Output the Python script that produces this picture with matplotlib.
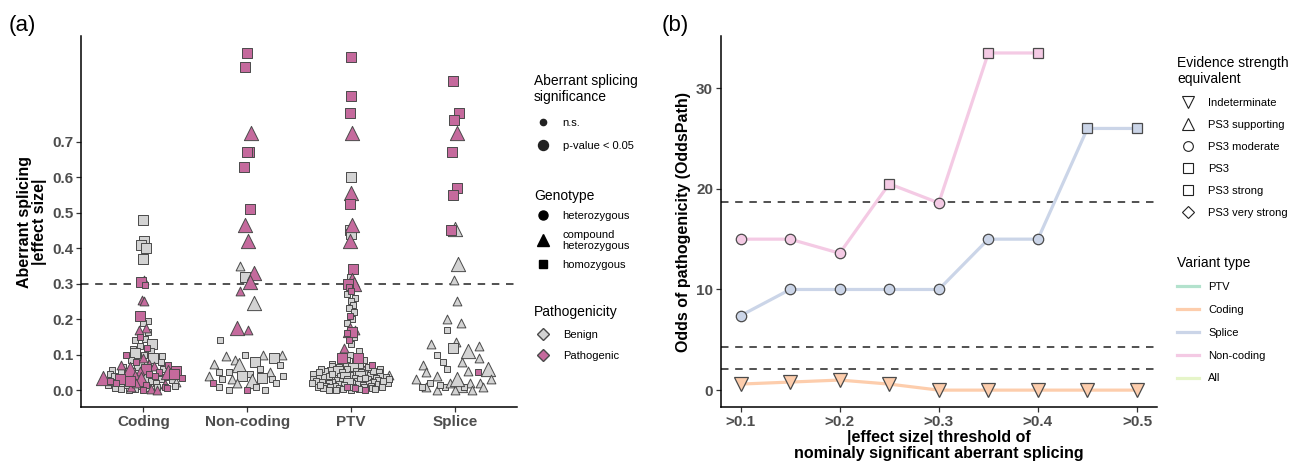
import matplotlib
matplotlib.use("Agg")
import matplotlib.pyplot as plt
from matplotlib.lines import Line2D
import numpy as np

plt.rcParams['font.family'] = ['Liberation Sans', 'DejaVu Sans']

# ---------------- panel (a) data ----------------
# kind code: shape (s=homozygous square, t=compound het triangle),
#            class (b=benign, p=pathogenic), size (S=n.s., L=p<0.05)
categories = ['Coding', 'Non-coding', 'PTV', 'Splice']

coding_vals = [0.48, 0.42, 0.41, 0.40, 0.37, 0.31, 0.305, 0.295, 0.255, 0.25,
               0.21, 0.195, 0.19, 0.175, 0.17, 0.165, 0.15, 0.145, 0.14, 0.13,
               0.125, 0.12, 0.115, 0.11, 0.105, 0.10, 0.10, 0.095, 0.09, 0.09,
               0.085, 0.08, 0.08, 0.075, 0.07, 0.07, 0.068, 0.065, 0.06, 0.06,
               0.058, 0.055, 0.055, 0.05, 0.05, 0.05, 0.048, 0.045, 0.045, 0.042,
               0.04, 0.04, 0.038, 0.035, 0.035, 0.033, 0.03, 0.03, 0.03, 0.028,
               0.025, 0.025, 0.022, 0.02, 0.02, 0.018, 0.015, 0.015, 0.012, 0.01,
               0.01, 0.01, 0.008, 0.006, 0.005, 0.004, 0.003, 0.002, 0.0, 0.0,
               0.0, 0.012, 0.02, 0.035, 0.045, 0.06, 0.07, 0.025, 0.015, 0.005]
coding_kind = ['sbL', 'sbL', 'sbL', 'sbL', 'sbL', 'tpS', 'spL', 'spS', 'tpS', 'tpS',
               'spL', 'sbS', 'sbS', 'tpS', 'tpS', 'sbS', 'spS', 'sbS', 'sbS', 'sbL',
               'sbS', 'spS', 'sbS', 'sbS', 'sbL', 'spS', 'sbS', 'sbS', 'sbL', 'tpS',
               'sbS', 'spS', 'sbS', 'tpS', 'sbL', 'spS', 'tpS', 'sbS', 'spL', 'tpL',
               'sbS', 'tpS', 'spL', 'tpL', 'sbS', 'spS', 'sbL', 'spL', 'sbS', 'tpS',
               'sbS', 'spS', 'sbS', 'tpL', 'sbL', 'spS', 'spL', 'sbS', 'tpL', 'sbS',
               'spS', 'sbS', 'tbS', 'spS', 'sbS', 'tpS', 'sbS', 'spS', 'sbS', 'spS',
               'sbS', 'sbS', 'tpS', 'sbS', 'spS', 'sbS', 'tpS', 'sbS', 'spS', 'sbS',
               'tpS', 'sbS', 'tpS', 'sbS', 'spS', 'sbS', 'tpS', 'spL', 'sbS', 'sbS']

noncoding_vals = [0.95, 0.91, 0.725, 0.67, 0.67, 0.63, 0.51, 0.465, 0.42, 0.35,
                  0.32, 0.33, 0.305, 0.28, 0.245, 0.175, 0.17, 0.14,
                  0.10, 0.095, 0.10, 0.10, 0.09, 0.085, 0.08, 0.075, 0.07, 0.07,
                  0.06, 0.05, 0.05, 0.05, 0.045, 0.04, 0.04, 0.035, 0.03, 0.03,
                  0.025, 0.02, 0.02, 0.02, 0.01, 0.01, 0.0, 0.0, 0.0, 0.04, 0.03]
noncoding_kind = ['spL', 'spL', 'tpL', 'spL', 'spL', 'spL', 'spL', 'tpL', 'tpL', 'tbS',
                  'sbL', 'tpL', 'tpL', 'tpS', 'tbL', 'tpL', 'tpS', 'sbS',
                  'tbS', 'tbS', 'sbS', 'tbS', 'sbL', 'tbS', 'sbL', 'tbS', 'tbL', 'sbS',
                  'sbS', 'sbS', 'tbS', 'sbS', 'sbS', 'sbL', 'sbS', 'sbL', 'tbS', 'sbS',
                  'tbL', 'tbS', 'sbS', 'spS', 'sbS', 'sbS', 'spS', 'sbS', 'sbS', 'tbS',
                  'sbS']

ptv_vals = [0.94, 0.83, 0.78, 0.725, 0.60, 0.555, 0.525, 0.465, 0.45, 0.44,
            0.42, 0.34, 0.32, 0.31, 0.30, 0.30, 0.29, 0.28, 0.27, 0.26,
            0.25, 0.24, 0.23, 0.22, 0.21, 0.20, 0.19, 0.17, 0.17, 0.165,
            0.16, 0.15, 0.14, 0.13, 0.12, 0.11, 0.10, 0.09, 0.09, 0.085,
            0.08, 0.078, 0.075, 0.072, 0.07, 0.07, 0.068, 0.065, 0.063, 0.06,
            0.06, 0.058, 0.056, 0.055, 0.053, 0.05, 0.05, 0.05, 0.048, 0.047,
            0.045, 0.045, 0.044, 0.043, 0.042, 0.04, 0.04, 0.04, 0.038, 0.037,
            0.036, 0.035, 0.035, 0.034, 0.033, 0.032, 0.03, 0.03, 0.03, 0.029,
            0.028, 0.027, 0.026, 0.025, 0.025, 0.024, 0.023, 0.022, 0.021, 0.02,
            0.02, 0.02, 0.019, 0.018, 0.017, 0.016, 0.015, 0.015, 0.014, 0.013,
            0.012, 0.011, 0.01, 0.01, 0.01, 0.009, 0.008, 0.007, 0.006, 0.005,
            0.005, 0.004, 0.003, 0.002, 0.001, 0.0, 0.0, 0.0, 0.06, 0.04,
            0.03, 0.05, 0.02, 0.035, 0.045, 0.015, 0.025, 0.01, 0.055, 0.065]
ptv_kind = ['spL', 'spL', 'spL', 'tpL', 'sbL', 'tpL', 'spL', 'tpL', 'sbL', 'sbL',
            'tpL', 'spL', 'sbS', 'tpL', 'tpL', 'spL', 'spS', 'spS', 'sbS', 'sbS',
            'sbS', 'sbS', 'sbS', 'sbS', 'spS', 'sbS', 'sbS', 'tpL', 'tpS', 'spL',
            'spS', 'sbS', 'spS', 'sbS', 'tpS', 'sbS', 'sbS', 'spL', 'spL', 'sbS',
            'sbL', 'sbS', 'sbS', 'spS', 'sbS', 'sbS', 'sbS', 'sbS', 'sbL', 'sbS',
            'sbS', 'tbS', 'sbS', 'sbL', 'sbS', 'sbS', 'sbS', 'sbS', 'sbL', 'sbS',
            'sbS', 'sbS', 'tbS', 'sbS', 'sbS', 'sbL', 'sbS', 'sbS', 'sbS', 'sbS',
            'sbL', 'sbS', 'sbS', 'sbS', 'sbS', 'sbS', 'sbL', 'sbS', 'sbS', 'sbS',
            'sbS', 'sbS', 'sbS', 'sbL', 'sbS', 'sbS', 'sbS', 'sbS', 'sbS', 'sbS',
            'sbL', 'sbS', 'sbS', 'sbS', 'sbS', 'sbS', 'sbS', 'sbS', 'sbS', 'sbS',
            'sbS', 'sbS', 'spS', 'sbS', 'sbS', 'sbS', 'sbS', 'sbS', 'sbS', 'sbS',
            'spS', 'sbS', 'sbS', 'sbS', 'sbS', 'sbS', 'sbS', 'spS', 'sbS', 'sbS',
            'sbS', 'sbS', 'sbS', 'sbS', 'sbS', 'sbS', 'sbS', 'sbS', 'sbS', 'sbS']

splice_vals = [0.87, 0.78, 0.76, 0.725, 0.67, 0.57, 0.55, 0.455, 0.45, 0.355,
               0.31, 0.25, 0.20, 0.19, 0.17, 0.135, 0.13, 0.125, 0.12, 0.11,
               0.10, 0.09, 0.08, 0.08, 0.07, 0.06, 0.06, 0.055, 0.05, 0.05,
               0.04, 0.03, 0.03, 0.02, 0.02, 0.02, 0.015, 0.01, 0.01, 0.01,
               0.01, 0.0, 0.0, 0.01, 0.02, 0.0, 0.03, 0.015]
splice_kind = ['spL', 'spL', 'spL', 'tpL', 'spL', 'spL', 'spL', 'tbL', 'spL', 'tbL',
               'tbS', 'tbS', 'tbS', 'tbS', 'sbS', 'tbS', 'tbS', 'tbS', 'sbL', 'tbL',
               'sbS', 'tbS', 'tbS', 'sbS', 'tbS', 'sbS', 'tbL', 'tbS', 'spS', 'tbS',
               'tbS', 'tbS', 'tbS', 'tbS', 'sbS', 'tbS', 'tbL', 'tbS', 'sbS', 'sbS',
               'tbS', 'tbS', 'tbS', 'sbS', 'tbS', 'tbS', 'tbL', 'sbS']

# ---------------- panel (b) data ----------------
thresholds = [0.1, 0.15, 0.2, 0.25, 0.3, 0.35, 0.4, 0.45, 0.5]
coding_odds = [0.6, 0.8, 1.0, 0.6, 0.0, 0.0, 0.0, 0.0, 0.0]
splice_odds = [7.4, 10, 10, 10, 10, 15, 15, 26, 26]
noncoding_odds = [15, 15, 13.6, 20.5, 18.6, 33.5, 33.5]
oddspath_cuts = [2.08, 4.33, 18.7]

variant_types = ['PTV', 'Coding', 'Splice', 'Non-coding', 'All']
pastel = ['#B3E2CD', '#FDCDAC', '#CBD5E8', '#F4CAE4', '#E6F5C9']
evidence_labels = ['Indeterminate', 'PS3 supporting', 'PS3 moderate', 'PS3',
                   'PS3 strong', 'PS3 very strong']
evidence_markers = ['v', '^', 'o', 's', 's', 'D']

BENIGN = '#d3d3d3'
PATHO = '#c56a9d'
EDGE = '#4a4a4a'
TICKC = '#4d4d4d'


def vdc(n, base=2):
    v, denom = 0.0, 1.0
    while n:
        denom *= base
        n, r = divmod(n, base)
        v += r / denom
    return v


def quasirandom(vals, width=0.4):
    y = np.asarray(vals, float)
    n = len(y)
    sd = y.std(ddof=1)
    iqr = np.subtract(*np.percentile(y, [75, 25])) / 1.34
    bw = 0.9 * min(sd, iqr if iqr > 0 else sd) * n ** -0.2
    dens = np.exp(-0.5 * ((y[:, None] - y[None, :]) / bw) ** 2).sum(1)
    dens = dens / dens.max()
    order = np.argsort(y, kind='stable')
    off = np.zeros(n)
    for rank, i in enumerate(order):
        off[i] = (vdc(rank + 1) - 0.5) * 2 * width * dens[i]
    return off


fig = plt.figure(figsize=(12.94, 4.63), dpi=100)

# ---------------- panel (a) ----------------
ax1 = fig.add_axes([0.0626, 0.121, 0.337, 0.801])
groups = [(coding_vals, coding_kind), (noncoding_vals, noncoding_kind),
          (ptv_vals, ptv_kind), (splice_vals, splice_kind)]
sizes = {('s', 'S'): 22, ('s', 'L'): 50, ('t', 'S'): 40, ('t', 'L'): 105}
for pass_cls in ['b', 'p']:
    for ci, (vals, kinds) in enumerate(groups):
        off = quasirandom(vals)
        for v, k, o in zip(vals, kinds, off):
            if k[1] != pass_cls:
                continue
            ax1.scatter(ci + 1 + o, v, marker='s' if k[0] == 's' else '^',
                        s=sizes[(k[0], k[2])],
                        color=BENIGN if k[1] == 'b' else PATHO,
                        edgecolor=EDGE, linewidth=0.7, zorder=3)

ax1.axhline(0.3, color='#333333', lw=1.2, ls=(0, (4.5, 4)), zorder=2)
ax1.set_xlim(0.4, 4.6)
ax1.set_ylim(-0.0475, 0.9975)
ax1.set_xticks(range(1, 5))
ax1.set_xticklabels(categories)
ax1.set_yticks(np.arange(0, 0.71, 0.1))
ax1.set_yticklabels([f'{t:.1f}' for t in np.arange(0, 0.71, 0.1)])
ax1.set_ylabel('Aberrant splicing\n|effect size|', fontsize=11.5,
               fontweight='bold', labelpad=4, linespacing=1.0)

# ---------------- panel (b) ----------------
ax2 = fig.add_axes([0.557, 0.121, 0.337, 0.801])


def evidence_marker(v):
    if v < oddspath_cuts[0]:
        return 'v'
    if v < oddspath_cuts[1]:
        return '^'
    if v < oddspath_cuts[2]:
        return 'o'
    return 's'


msize = {'v': 10, '^': 10, 'o': 7.5, 's': 6.8}
for odds, col in [(coding_odds, pastel[1]), (splice_odds, pastel[2]),
                  (noncoding_odds, pastel[3])]:
    xs = thresholds[:len(odds)]
    ax2.plot(xs, odds, color=col, lw=2.3, zorder=2, solid_capstyle='butt')
    for x, v in zip(xs, odds):
        m = evidence_marker(v)
        ax2.plot(x, v, marker=m, ms=msize[m], mfc=col, mec=EDGE, mew=0.9,
                 ls='none', zorder=3)

for c in oddspath_cuts:
    ax2.axhline(c, color='#333333', lw=1.2, ls=(0, (4.5, 4)), zorder=1)

ax2.set_xlim(0.08, 0.52)
ax2.set_ylim(-1.675, 35.175)
ax2.set_xticks([0.1, 0.2, 0.3, 0.4, 0.5])
ax2.set_xticklabels(['>0.1', '>0.2', '>0.3', '>0.4', '>0.5'])
ax2.set_yticks([0, 10, 20, 30])
ax2.set_ylabel('Odds of pathogenicity (OddsPath)', fontsize=11.5,
               fontweight='bold', labelpad=4)
ax2.set_xlabel('|effect size| threshold of\nnominaly significant aberrant splicing',
               fontsize=11.5, fontweight='bold', labelpad=1, linespacing=1.05)

for ax in (ax1, ax2):
    for s in ('top', 'right'):
        ax.spines[s].set_visible(False)
    for s in ('left', 'bottom'):
        ax.spines[s].set_linewidth(1.1)
    ax.tick_params(length=3.5, width=0.9, color='#333333', labelcolor=TICKC,
                   labelsize=11, pad=2)
    for lab in ax.get_xticklabels() + ax.get_yticklabels():
        lab.set_fontweight('bold')

fig.text(0.007, 0.945, '(a)', fontsize=16, va='center')
fig.text(0.511, 0.945, '(b)', fontsize=16, va='center')

# ---------------- legends ----------------
lkw = dict(frameon=False, loc='upper left', fontsize=8, title_fontsize=10,
           alignment='left', borderpad=0, borderaxespad=0, handletextpad=1.0)

h_sig = [Line2D([], [], marker='o', ls='none', color='#222222', ms=4.5),
         Line2D([], [], marker='o', ls='none', color='#222222', ms=7.2)]
fig.legend(h_sig, ['n.s.', 'p-value < 0.05'],
           title='Aberrant splicing\nsignificance', bbox_to_anchor=(0.4125, 0.840),
           handlelength=1.6, labelspacing=1.2, **lkw)

h_gen = [Line2D([], [], marker='o', ls='none', color='black', ms=6.5),
         Line2D([], [], marker='^', ls='none', color='black', ms=8.5),
         Line2D([], [], marker='s', ls='none', color='black', ms=5.2)]
fig.legend(h_gen, ['heterozygous', 'compound\nheterozygous', 'homozygous'],
           title='Genotype', bbox_to_anchor=(0.4125, 0.592),
           handlelength=1.6, labelspacing=0.75, **lkw)

h_pat = [Line2D([], [], marker='D', ls='none', mfc=BENIGN, mec=EDGE, ms=6),
         Line2D([], [], marker='D', ls='none', mfc=PATHO, mec=EDGE, ms=6)]
fig.legend(h_pat, ['Benign', 'Pathogenic'],
           title='Pathogenicity', bbox_to_anchor=(0.4125, 0.342),
           handlelength=1.6, labelspacing=1.0, **lkw)

rkw = dict(lkw)
rkw['handletextpad'] = 0.8
h_ev = [Line2D([], [], marker=m, ls='none', mfc='none', mec='#222222',
               ms=8 if m in 'v^' else (7 if m == 'o' else 6.5), mew=0.8)
        for m in evidence_markers]
fig.legend(h_ev, evidence_labels, title='Evidence strength\nequivalent',
           bbox_to_anchor=(0.9095, 0.880), handlelength=2.0, labelspacing=1.08,
           **rkw)

h_vt = [Line2D([], [], color=c, lw=2.3) for c in pastel]
fig.legend(h_vt, variant_types, title='Variant type',
           bbox_to_anchor=(0.9095, 0.448), handlelength=2.0, labelspacing=1.15,
           **rkw)

fig.savefig('out.png', dpi=100)
